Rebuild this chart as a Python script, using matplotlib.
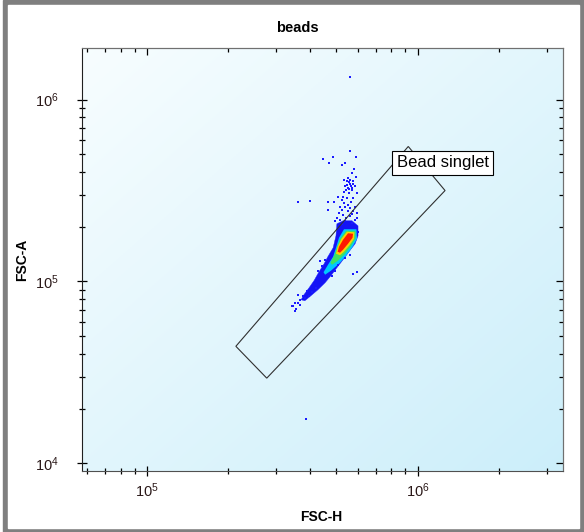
import numpy as np
import matplotlib.pyplot as plt
from matplotlib.patches import Rectangle
from matplotlib.ticker import LogLocator, NullFormatter, FuncFormatter

plt.rcParams['font.family'] = ['Liberation Sans', 'DejaVu Sans']

title = 'beads'
x_name = 'FSC-H'
y_name = 'FSC-A'

# single events (FSC-H, FSC-A)
event_h = [5.62e5, 4.88e5, 5.92e5, 4.48e5, 4.71e5, 5.39e5, 5.27e5, 5.82e5, 5.71e5, 5.92e5,
           5.54e5, 5.36e5, 5.47e5, 5.78e5, 5.62e5, 5.87e5, 5.39e5, 5.51e5, 5.71e5, 5.36e5,
           5.575e5, 5.95e5, 5.31e5, 5.09e5, 5.78e5, 5.47e5, 5.24e5, 5.67e5, 3.60e5, 4.00e5,
           4.65e5, 4.91e5, 5.16e5, 5.39e5, 5.62e5, 5.87e5, 5.24e5, 5.51e5, 5.78e5, 5.95e5,
           5.31e5, 5.62e5, 5.16e5, 5.39e5, 5.87e5, 4.68e5, 4.95e5, 5.71e5,
           5.575e5, 5.67e5, 5.48e5, 5.72e5, 5.575e5, 5.435e5, 5.77e5, 5.62e5,
           5.34e5, 5.53e5, 5.72e5, 5.435e5, 5.12e5, 5.97e5, 5.25e5, 5.03e5,
           4.44e5, 4.36e5, 4.55e5, 4.29e5, 5.09e5, 5.39e5, 5.62e5, 5.78e5, 4.95e5, 4.81e5,
           5.97e5, 6.0e5,
           3.62e5, 3.67e5, 3.52e5, 3.42e5, 3.78e5, 3.89e5, 3.47e5, 3.52e5, 3.62e5, 3.83e5,
           3.55e5, 3.67e5, 4.07e5, 4.21e5, 3.97e5,
           5.62e5, 3.87e5]
event_a = [5.18e5, 4.86e5, 4.86e5, 4.72e5, 4.47e5, 4.47e5, 4.34e5, 4.15e5, 3.94e5, 3.75e5,
           3.70e5, 3.62e5, 3.545e5, 3.545e5, 3.43e5, 3.33e5, 3.33e5, 3.26e5, 3.19e5, 3.12e5,
           3.06e5, 3.06e5, 2.93e5, 2.93e5, 2.87e5, 2.87e5, 2.81e5, 2.75e5, 2.72e5, 2.78e5,
           2.73e5, 2.72e5, 2.58e5, 2.58e5, 2.53e5, 2.58e5, 2.48e5, 2.425e5, 2.425e5, 2.38e5,
           2.33e5, 2.28e5, 2.18e5, 2.155e5, 2.18e5, 2.48e5, 2.14e5, 2.09e5,
           3.53e5, 3.36e5, 3.40e5, 3.27e5, 3.23e5, 3.19e5, 3.44e5, 3.62e5,
           2.71e5, 2.64e5, 2.36e5, 2.24e5, 2.39e5, 2.24e5, 2.075e5, 2.24e5,
           1.21e5, 1.29e5, 1.316e5, 1.135e5, 1.235e5, 1.345e5, 1.40e5, 1.10e5, 1.135e5, 1.066e5,
           1.131e5, 1.87e5,
           8.45e4, 7.93e4, 7.61e4, 7.29e4, 8.27e4, 8.81e4, 7.29e4, 6.84e4, 7.61e4, 8.11e4,
           7.08e4, 7.45e4, 8.78e4, 9.23e4, 8.35e4,
           1.338e6, 1.754e4]

# density contours of the main population, low to high
blue_h = [5.03e5, 4.99e5, 4.87e5, 4.66e5, 4.51e5, 4.32e5, 4.14e5, 3.97e5, 3.80e5, 3.71e5,
          3.83e5, 4.035e5, 4.28e5, 4.55e5, 4.78e5, 5.03e5, 5.30e5, 5.575e5, 5.87e5, 6.02e5,
          6.02e5, 5.72e5, 5.30e5]
blue_a = [2.075e5, 1.78e5, 1.53e5, 1.37e5, 1.25e5, 1.13e5, 1.01e5, 9.23e4, 8.45e4, 7.93e4,
          7.83e4, 8.35e4, 9.0e4, 9.84e4, 1.075e5, 1.19e5, 1.316e5, 1.457e5, 1.61e5, 1.78e5,
          2.02e5, 2.155e5, 2.155e5]
cyan_h = [5.343e5, 5.94e5, 5.97e5, 5.72e5, 5.435e5, 5.12e5, 4.78e5, 4.55e5, 4.49e5, 4.663e5,
          4.87e5, 4.99e5, 5.12e5]
cyan_a = [1.936e5, 1.936e5, 1.717e5, 1.532e5, 1.384e5, 1.251e5, 1.145e5, 1.089e5, 1.124e5, 1.235e5,
          1.367e5, 1.53e5, 1.738e5]
green_h = [5.435e5, 5.89e5, 5.89e5, 5.65e5, 5.39e5, 5.078e5, 4.825e5, 4.76e5, 4.908e5, 5.03e5,
           5.164e5]
green_a = [1.90e5, 1.90e5, 1.717e5, 1.551e5, 1.42e5, 1.30e5, 1.235e5, 1.267e5, 1.384e5, 1.532e5,
           1.717e5]
yellow_h = [5.48e5, 5.84e5, 5.818e5, 5.60e5, 5.343e5, 5.164e5, 4.992e5, 5.06e5, 5.23e5]
yellow_a = [1.876e5, 1.864e5, 1.717e5, 1.581e5, 1.457e5, 1.393e5, 1.42e5, 1.551e5, 1.717e5]
red_h = [5.528e5, 5.77e5, 5.745e5, 5.528e5, 5.30e5, 5.164e5, 5.06e5, 5.12e5, 5.30e5]
red_a = [1.84e5, 1.829e5, 1.738e5, 1.611e5, 1.494e5, 1.438e5, 1.457e5, 1.551e5, 1.695e5]

# gate
gate_h = [9.23e5, 1.262e6, 2.77e5, 2.13e5]
gate_a = [5.52e5, 3.16e5, 2.94e4, 4.40e4]
gate_name = 'Bead singlet'
label_h, label_a = 8.36e5, 4.48e5

x_lim = (5.74e4, 3.45e6)
y_lim = (9.11e3, 1.92e6)

fig = plt.figure(figsize=(5.84, 5.32), dpi=100)
fig.patch.set_facecolor('white')
fig.patches.append(Rectangle((3 / 584, 0), 1, 1, transform=fig.transFigure,
                             color='#7f7f7f', zorder=-2))
fig.patches.append(Rectangle((8 / 584, 4 / 532), 571 / 584, 523.5 / 532,
                             transform=fig.transFigure, color='white', zorder=-1))

pos = [81.7 / 584, 1 - 470.7 / 532, (563.3 - 81.7) / 584, (470.7 - 48) / 532]

# light gradient behind the plot
bg = fig.add_axes(pos, zorder=0)
bg.axis('off')
u = np.linspace(0, 1, 200)
uu, vv = np.meshgrid(u, u)
t = (uu + vv) / 2
c0 = np.array([0.97, 0.993, 1.0])
c1 = np.array([0.80, 0.935, 0.98])
grad = c0 + (c1 - c0) * t[..., None]
bg.imshow(grad, extent=[0, 1, 0, 1], aspect='auto', origin='upper')
bg.set_xlim(0, 1)
bg.set_ylim(0, 1)

ax = fig.add_axes(pos, zorder=1)
ax.patch.set_alpha(0)
ax.set_xscale('log')
ax.set_yscale('log')
ax.set_xlim(*x_lim)
ax.set_ylim(*y_lim)

ax.fill(blue_h, blue_a, color='#1414f5', lw=0.3, ec='#2020ff', zorder=2)
ax.fill(cyan_h, cyan_a, color='#00c8ff', lw=0, zorder=2.1)
ax.fill(green_h, green_a, color='#40e060', lw=0, zorder=2.2)
ax.fill(yellow_h, yellow_a, color='#ffd000', lw=0, zorder=2.3)
ax.fill(red_h, red_a, color='#ff1a00', lw=0, zorder=2.4)
ax.scatter(event_h, event_a, s=2.5, marker='s', c='#1a1aff', linewidths=0, zorder=3)

ax.fill(gate_h, gate_a, fill=False, edgecolor='#303030', lw=0.8, zorder=4)
ax.text(label_h, label_a, gate_name, fontsize=12, ha='left', va='center', zorder=5,
        bbox=dict(boxstyle='square,pad=0.25', fc='white', ec='black', lw=0.8))

fmt = FuncFormatter(lambda v, p: r'$\mathregular{10^{%d}}$' % round(np.log10(v)))
for axis in (ax.xaxis, ax.yaxis):
    axis.set_major_locator(LogLocator(base=10))
    axis.set_minor_locator(LogLocator(base=10, subs=np.arange(2, 10)))
    axis.set_major_formatter(fmt)
    axis.set_minor_formatter(NullFormatter())

ax.tick_params(which='both', direction='inout', top=False, right=False,
               labelsize=10.5, labelcolor='#2a1818', width=0.9)
ax.tick_params(which='major', length=7)
ax.tick_params(which='minor', length=4)
ax.tick_params(axis='x', which='major', pad=4)
ax.tick_params(axis='y', which='major', pad=13)

secx = ax.secondary_xaxis('top')
secx.xaxis.set_minor_locator(LogLocator(base=10, subs=np.arange(2, 10)))
secx.xaxis.set_minor_formatter(NullFormatter())
secx.tick_params(which='both', direction='in', labeltop=False, width=0.9)
secx.tick_params(which='major', length=5)
secx.tick_params(which='minor', length=3)
secx.spines['top'].set_color('#707070')

secy = ax.secondary_yaxis('right')
secy.yaxis.set_minor_locator(LogLocator(base=10, subs=np.arange(2, 10)))
secy.yaxis.set_minor_formatter(NullFormatter())
secy.tick_params(which='both', direction='in', labelright=False, width=0.9)
secy.tick_params(which='major', length=5)
secy.tick_params(which='minor', length=3)
secy.spines['right'].set_color('#707070')

ax.spines['left'].set_color('#202020')
ax.spines['bottom'].set_color('#505050')
ax.spines['top'].set_color('#707070')
ax.spines['right'].set_color('#707070')

fig.text(297 / 584, 1 - 28 / 532, title, fontsize=10.5, fontweight='bold', ha='center', va='center')
fig.text(321.5 / 584, 1 - 516.7 / 532, x_name, fontsize=10, fontweight='bold', ha='center', va='center')
fig.text(22.5 / 584, 1 - 260 / 532, y_name, fontsize=10, fontweight='bold', ha='center', va='center',
         rotation=90)

fig.savefig('out.png', dpi=100)
